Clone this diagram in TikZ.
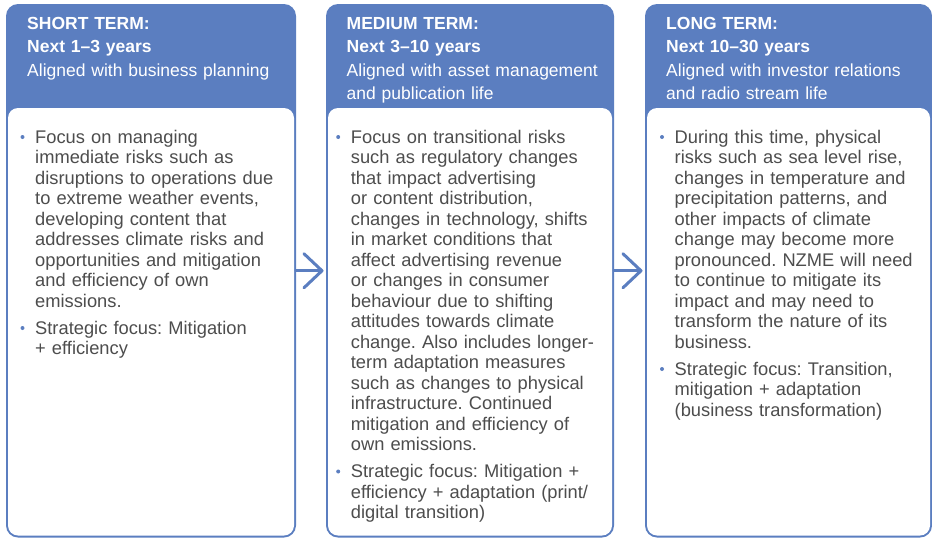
\documentclass[tikz,border=0pt]{standalone}
\usepackage{fontspec}
\setmainfont{Liberation Sans}
\frenchspacing
\usetikzlibrary{positioning}
\usetikzlibrary{arrows.meta}
\definecolor{termblue}{RGB}{91,126,192}
\definecolor{bodygray}{RGB}{77,77,77}

\begin{document}
\begin{tikzpicture}[x=1pt, y=1pt, node distance={30pt},
  panel/.style = {fill=termblue, rounded corners=12pt, inner sep=0pt, outer sep=0pt, minimum height=533.5pt},
  inside/.style = {fill=white, rounded corners=10pt, inner sep=0pt, outer sep=0pt, minimum height=427.5pt},
  head/.style = {anchor=base west, inner sep=0pt, text=white, text width=280pt, align=left, font=\fontsize{17.5}{23.4}\selectfont},
  item/.style = {anchor=base west, inner sep=0pt, text=bodygray, text width=270pt, align=left, font=\fontsize{18.3}{20.5}\selectfont},
  dot/.style = {circle, fill=termblue, inner sep=0pt, minimum size=4pt},
  next/.style = {termblue, line width=3pt, line cap=round, shorten >=2.5pt, -{Straight Barb[length=18pt, width=34pt, round]}}]
  \useasboundingbox (0,0) rectangle (932,-538);

  % the three time frames
  \node[panel, minimum width=290pt, anchor=north west] (short) at (6,-4) {};
  \node[panel, minimum width=288pt, right=30pt of short] (medium) {};
  \node[panel, minimum width=287pt, right=31pt of medium] (long) {};

  \node[inside, minimum width=286pt, below=104pt of short.north] (shortbody) {};
  \node[inside, minimum width=284pt, below=104pt of medium.north] (mediumbody) {};
  \node[inside, minimum width=283pt, below=104pt of long.north] (longbody) {};

  % headings
  \node[head] (shorthead) at ([shift={(21,-25.3)}]short.north west) {\textbf{SHORT TERM:}\\ \textbf{Next 1--3 years}\\ Aligned with business planning};
  \node[head] (mediumhead) at ([shift={(20.5,-25.3)}]medium.north west) {\textbf{MEDIUM TERM:}\\ \textbf{Next 3--10 years}\\ Aligned with asset management\\ and publication life};
  \node[head] (longhead) at ([shift={(21,-25.3)}]long.north west) {\textbf{LONG TERM:}\\ \textbf{Next 10--30 years}\\ Aligned with investor relations\\ and radio stream life};

  % bullet points
  \node[item] (short1) at ([shift={(29,-139)}]short.north west) {Focus on managing\\ immediate risks such as\\ disruptions to operations due\\ to extreme weather events,\\ developing content that\\ addresses climate risks and\\ opportunities and mitigation\\ and efficiency of own\\ emissions.};
  \node[item] (short2) at ([shift={(29,-330)}]short.north west) {Strategic focus: Mitigation\\ + efficiency};

  \node[item] (medium1) at ([shift={(24.7,-139)}]medium.north west) {Focus on transitional risks\\ such as regulatory changes\\ that impact advertising\\ or content distribution,\\ changes in technology, shifts\\ in market conditions that\\ affect advertising revenue\\ or changes in consumer\\ behaviour due to shifting\\ attitudes towards climate\\ change. Also includes longer-\\ term adaptation measures\\ such as changes to physical\\ infrastructure. Continued\\ mitigation and efficiency of\\ own emissions.};
  \node[item] (medium2) at ([shift={(24.7,-473.5)}]medium.north west) {Strategic focus: Mitigation +\\ efficiency + adaptation (print/\\ digital transition)};

  \node[item] (long1) at ([shift={(29.5,-139)}]long.north west) {During this time, physical\\ risks such as sea level rise,\\ changes in temperature and\\ precipitation patterns, and\\ other impacts of climate\\ change may become more\\ pronounced. NZME will need\\ to continue to mitigate its\\ impact and may need to\\ transform the nature of its\\ business.};
  \node[item] (long2) at ([shift={(29.5,-371)}]long.north west) {Strategic focus: Transition,\\ mitigation + adaptation\\ (business transformation)};

  \foreach \n in {short1, short2, medium1, medium2, long1, long2}
    \node[dot] (\n dot) at ([shift={(-12.5,6)}]\n.base west) {};

  % arrows between the frames
  \draw[next] (short) -- (medium);
  \draw[next] (medium) -- (long);
\end{tikzpicture}
\end{document}
